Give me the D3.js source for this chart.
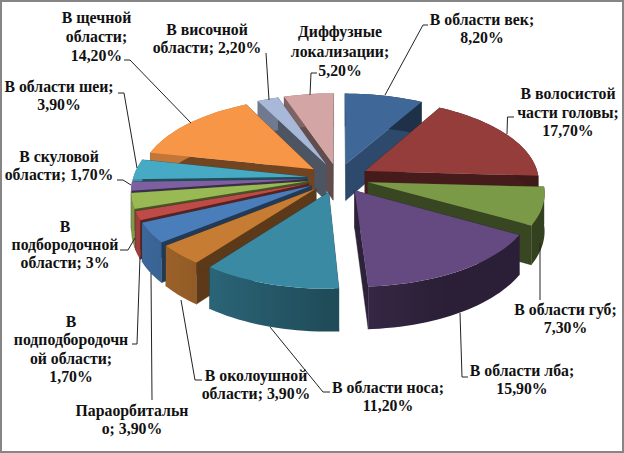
<!DOCTYPE html>
<html>
<head>
<meta charset="utf-8">
<script src="https://cdn.jsdelivr.net/npm/d3@7"></script>
<style>
 html, body { margin: 0; padding: 0; background: #fff; }
 svg { display: block; }
 text { font-family: "Liberation Serif", serif; font-weight: bold; font-size: 15.8px; fill: #111; text-anchor: middle; }
</style>
</head>
<body>
<svg id="pie" width="624" height="453"></svg>
<script>
 // data
 const categories = ["В области век", "В волосистой части головы", "В области губ", "В области лба",
     "В области носа", "В околоушной области", "Параорбитально", "В подподбородочной области",
     "В подбородочной области", "В скуловой области", "В области шеи", "В щечной области",
     "В височной области", "Диффузные локализации"];
 const values = [8.2, 17.7, 7.3, 15.9, 11.2, 3.9, 3.9, 1.7, 3, 1.7, 3.9, 14.2, 2.2, 5.2];
 const labelLines = [
     ["В области век;", "8,20%"],
     ["В волосистой", "части головы;", "17,70%"],
     ["В области губ;", "7,30%"],
     ["В области лба;", "15,90%"],
     ["В области носа;", "11,20%"],
     ["В околоушной", "области; 3,90%"],
     ["Параорбитальн", "о; 3,90%"],
     ["В", "подподбородочн", "ой области;", "1,70%"],
     ["В", "подбородочной", "области; 3%"],
     ["В скуловой", "области; 1,70%"],
     ["В области шеи;", "3,90%"],
     ["В щечной", "области;", "14,20%"],
     ["В височной", "области; 2,20%"],
     ["Диффузные", "локализации;", "5,20%"]
 ];
 const colors = ["#3f6797", "#953d3a", "#7a9a47", "#644a80", "#3a8aa3", "#c77c34", "#4a7ebb",
     "#be4b48", "#98b954", "#7d60a0", "#46aac4", "#f79646", "#a7b8d8", "#d4a5a5"];

 // label layout: centre x, first baseline y, line step
 const labelPos = [[482, 25, 18], [568, 99, 18.5], [565.5, 315, 18], [522, 376, 18], [388, 393, 18],
     [256, 381, 17.5], [132, 416, 17.5], [71, 327, 18.3], [65, 232, 18], [59, 162, 18],
     [59, 92, 17.5], [96.5, 23, 19], [207, 35, 18], [340, 37, 19.5]];
 // leader lines
 const leaders = [
     [[385, 95], [423, 25], [428, 25]],
     [[507, 134], [507.5, 117], [514, 117]],
     [[540, 243], [540, 300]],
     [[460, 313], [462, 377], [468, 377]],
     [[270, 327], [323, 392], [330, 392]],
     [[181, 300], [195, 380], [202, 380]],
     [[151, 273], [152, 400]],
     [[140, 257], [137, 344], [132, 344]],
     [[135, 238], [128, 250], [120, 250]],
     [[131, 185], [123, 180], [117, 180]],
     [[137, 168], [124, 93], [118, 93]],
     [[191, 123], [130, 60], [124, 60]],
     [[269, 100], [266, 53]],
     [[310, 95], [311, 73], [317, 73]]
 ];

 const width = 624, height = 453;
 const cx = 338, cy = 178;
 const R = 174, explode = 31, depth = 37;
 const tilt = 0.47, viewDist = 1500;

 const svg = d3.select("#pie");
 const defs = svg.append("defs");
 svg.append("rect").attr("x", 1).attr("y", 1).attr("width", width - 2).attr("height", height - 2)
     .attr("fill", "#fff").attr("stroke", "#868686").attr("stroke-width", 2);

 // pie ground coords -> screen, near part of the plate gets bigger
 function project(gx, gy, z) {
     const p = 1 / (1 - gy / viewDist);
     return [cx + gx * p, cy + (tilt * gy + z) * p];
 }
 const line = d3.line();

 function wallShade(a) {
     return Math.max(0.42, 0.55 - 0.3 * Math.sin(a));
 }
 function shade(col, f) {
     const c = d3.rgb(col);
     return d3.rgb(c.r * f, c.g * f, c.b * f).formatHex();
 }

 const slices = d3.pie().sort(null).startAngle(0).endAngle(2 * Math.PI)(values).map((d, i) => {
     d.i = i;
     d.mid = (d.startAngle + d.endAngle) / 2;
     return d;
 });
 // far slices first
 const order = slices.slice().sort((a, b) => Math.cos(b.mid) - Math.cos(a.mid));

 const pie = svg.append("g");
 order.forEach(d => {
     const ox = explode * Math.sin(d.mid), oy = -explode * Math.cos(d.mid);
     const rim = (a, r, z) => project(ox + r * Math.sin(a), oy - r * Math.cos(a), z);
     const g = pie.append("g").attr("class", "slice").attr("data-name", categories[d.i]);
     const side = shade(colors[d.i], d.i === 0 ? 0.72 : 0.46);

     // cut faces
     [d.startAngle, d.endAngle].forEach(a => {
         g.append("path")
             .attr("d", line([rim(a, 0, 0), rim(a, R, 0), rim(a, R, depth), rim(a, 0, depth)]) + "Z")
             .attr("fill", side).attr("stroke", side).attr("stroke-width", 0.4);
     });

     const steps = d3.range(d.startAngle, d.endAngle, Math.PI / 90).concat([d.endAngle]);

     // outer wall, one horizontal gradient following the angle on the front half
     const front = steps.filter(a => Math.cos(a) < 0.1);
     const xs = front.map(a => rim(a, R, 0)[0]);
     let wallFill = shade(colors[d.i], wallShade(d.mid));
     if (front.length > 1 && d3.max(xs) > d3.min(xs)) {
         const id = "wall" + d.i;
         const x0 = d3.min(xs), x1 = d3.max(xs);
         const offset = d3.scaleLinear().domain([x0, x1]).range([0, 1]);
         const stops = front.map((a, k) => ({ o: offset(xs[k]), c: shade(colors[d.i], wallShade(a)) }))
             .sort((a, b) => a.o - b.o);
         defs.append("linearGradient").attr("id", id).attr("gradientUnits", "userSpaceOnUse")
             .attr("x1", x0).attr("x2", x1).attr("y1", 0).attr("y2", 0)
             .selectAll("stop").data(stops).enter().append("stop")
             .attr("offset", s => s.o).attr("stop-color", s => s.c);
         wallFill = `url(#${id})`;
     }
     const upper = steps.map(a => rim(a, R, 0));
     const lower = steps.map(a => rim(a, R, depth)).reverse();
     g.append("path").attr("d", line(upper.concat(lower)) + "Z").attr("fill", wallFill);

     // top
     const top = [rim(0, 0, 0)].concat(upper);
     g.append("path").attr("d", line(top) + "Z").attr("fill", colors[d.i]);
 });

 // leaders
 svg.append("g").selectAll("path").data(leaders).enter().append("path")
     .attr("d", d => line(d))
     .attr("fill", "none").attr("stroke", "#222").attr("stroke-width", 1);

 // labels
 const labels = svg.append("g").selectAll("text").data(labelLines).enter().append("text")
     .attr("transform", (d, i) => `translate(${labelPos[i][0]},${labelPos[i][1]})`);
 labels.selectAll("tspan").data((d, i) => d.map(t => ({ t: t, step: labelPos[i][2] }))).enter().append("tspan")
     .attr("x", 0)
     .attr("y", (d, j) => j * d.step)
     .text(d => d.t);
</script>
</body>
</html>
